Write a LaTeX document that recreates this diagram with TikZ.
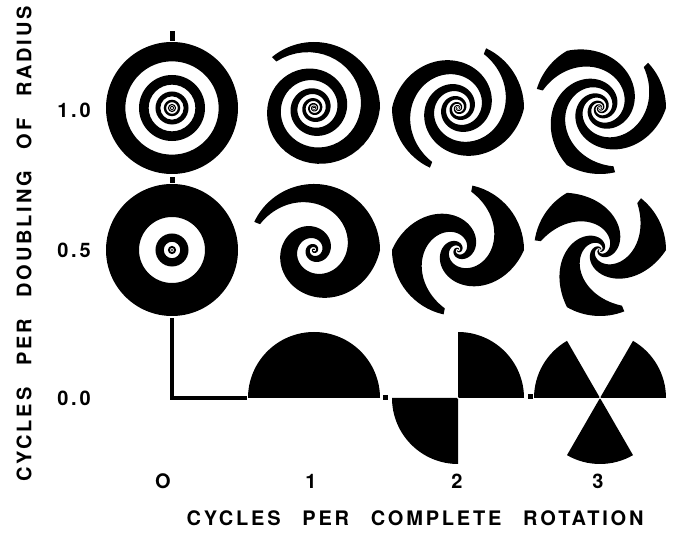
\documentclass[tikz,border=0pt]{standalone}
\usepackage{fontspec}
\newfontfamily\labfont[LetterSpace=14,WordSpace=2.6]{TeX Gyre Heros}
\usepackage{tikz}

\begin{document}
\begin{tikzpicture}[x=1pt,y=1pt,lab/.style={inner sep=0,font=\labfont\bfseries\fontsize{20}{20}\selectfont}]
\useasboundingbox(0,0)rectangle(673,544);
\foreach \j in {0,...,5}\fill[even odd rule](172,436)circle[radius={66*exp(-.6931*\j)}]circle[radius={66*exp(-.6931*(\j+.5))}];
\foreach \j in {0,...,3}\fill[even odd rule](172,294)circle[radius={66*exp(-.6931*2*\j)}]circle[radius={66*exp(-.6931*(2*\j+1))}];
\foreach \cx/\cy/\n/\m/\uo in {314/436/1/1/.14,458/436/2/1/.14,600/436/3/1/.14,314/294/1/.5/.14,458/294/2/.5/.14,600/294/3/.5/.14,314/146/1/0/0,458/146/2/0/0,600/146/3/0/0}{
\foreach \k in {1,...,\n}{
\fill[shift={(\cx,\cy)}]plot[domain=0:6,samples=300,variable=\u]({(2*\k-2)*180/\n-360*\m*\u/\n}:{66*exp(-.6931*\u)})
 --plot[domain=6:\uo,samples=300,variable=\u]({(2*\k-1)*180/\n-360*\m*\u/\n}:{66*exp(-.6931*\u)})
 --({(2*\k-1)*180/\n-360*\m*\uo/\n}:66)
 arc[start angle={(2*\k-1)*180/\n-360*\m*\uo/\n},end angle={(2*\k-2)*180/\n},radius=66]--cycle;}}
\fill(169.5,503)rectangle(174.5,513);\fill(169.5,361)rectangle(174.5,367);
\draw[line width=4pt](172,226)|-(247,146);
\fill(382.5,143.5)rectangle(387.5,148.5);\fill(527.5,144.5)rectangle(532.5,149.5);
\node[lab,rotate=90](yl)at(24,300){CYCLES PER DOUBLING OF RADIUS};
\node[lab](r1)at(74,434){1.0};\node[lab](r2)at(74,294){0.5};\node[lab](r3)at(74,146){0.0};
\node[lab](c0)at(163,63){O};\node[lab](c1)at(311,63){1};\node[lab](c2)at(457,63){2};\node[lab](c3)at(598,63){3};
\node[lab](xl)at(415,26){CYCLES PER COMPLETE ROTATION};
\end{tikzpicture}
\end{document}
